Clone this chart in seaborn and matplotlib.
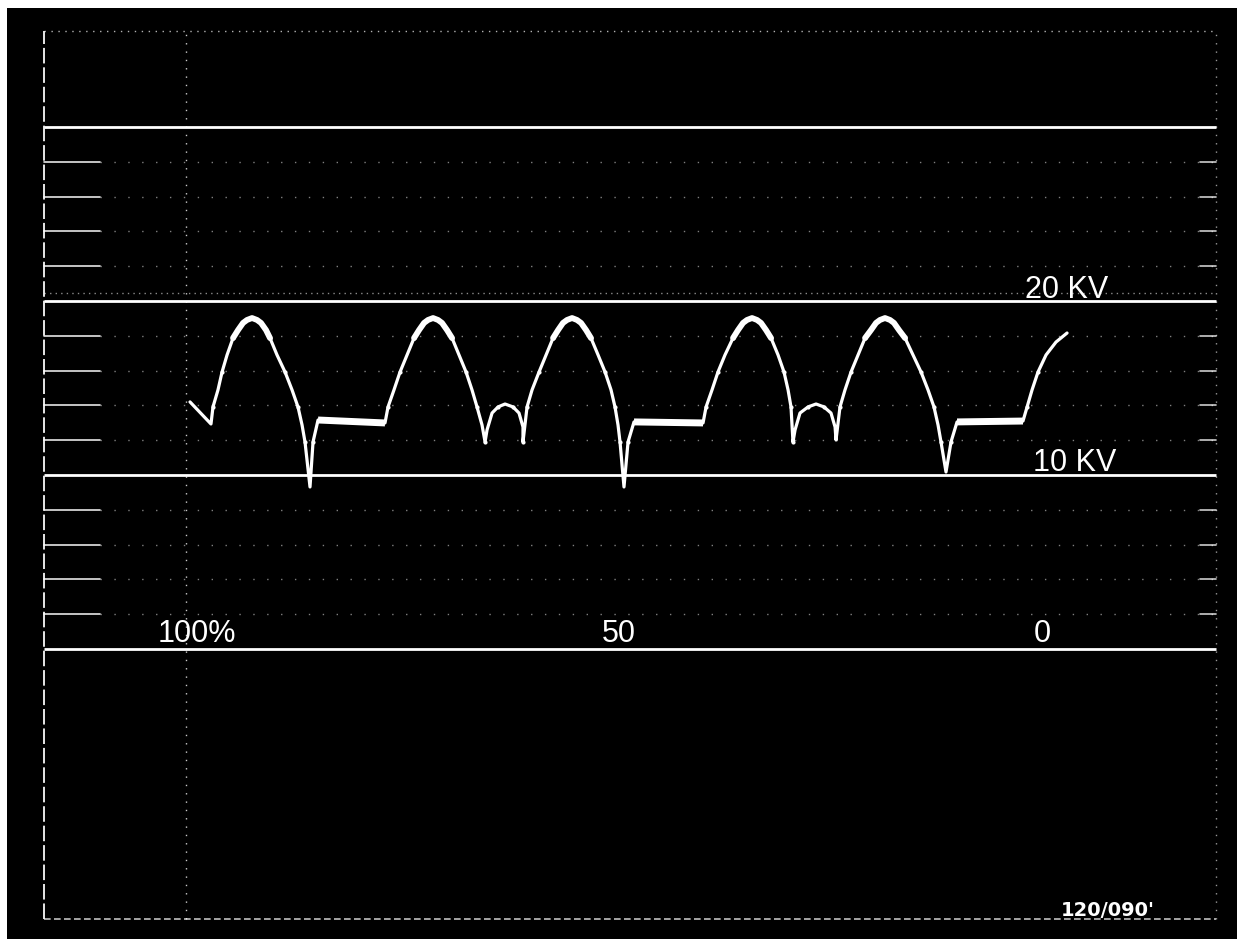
import numpy as np
import pandas as pd
from matplotlib import pyplot as plt
import seaborn as sb

# trace: sweep position in % (100 -> 0) and voltage in kV
wave_pct = [99.54, 97.11,
            # arch 1
            96.88, 96.30, 95.83, 95.25, 94.56, 93.98, 93.40, 92.94, 92.36,
            91.78, 91.32, 90.74, 90.28, 89.47, 88.54, 87.73, 87.04, 86.57, 86.23, 85.65,
            85.30, 84.72, 76.97,
            # arch 2
            76.62, 75.93, 75.23, 74.42, 73.61, 73.03, 72.45, 71.99, 71.41,
            70.83, 70.37, 69.79, 69.21, 68.40, 67.59, 66.90, 66.32, 65.74, 65.39,
            # small arch
            65.16, 64.58, 63.89, 63.08, 62.15, 61.46, 61.00, 61.00,
            # arch 3
            60.53, 59.95, 59.14, 58.33, 57.52, 56.94, 56.37, 55.90, 55.32,
            54.75, 54.28, 53.70, 53.13, 52.31, 51.50, 50.81, 50.35, 50.00, 49.77, 49.31,
            48.84, 48.15, 40.16,
            # arch 4
            39.81, 39.12, 38.43, 37.62, 36.69, 36.11, 35.53, 35.07, 34.49,
            33.91, 33.45, 32.87, 32.29, 31.48, 30.79, 30.32, 29.98, 29.86, 29.75,
            # small arch
            29.51, 28.94, 28.01, 27.08, 26.16, 25.35, 24.88, 24.77,
            # arch 5
            24.31, 23.73, 23.03, 22.22, 21.41, 20.72, 20.14, 19.68, 19.10,
            18.52, 18.06, 17.48, 16.78, 15.86, 14.93, 14.12, 13.43, 12.96, 12.62, 12.04,
            11.46, 10.76, 3.13,
            # final rise
            2.66, 2.08, 1.39, 0.46, -0.69, -1.97]
wave_kv = [14.20, 12.93,
           13.91, 14.89, 15.92, 16.90, 17.87, 18.33, 18.74, 18.91, 19.02,
           18.91, 18.74, 18.33, 17.87, 16.90, 15.92, 14.89, 13.91, 12.87, 11.90, 9.31,
           11.90, 13.16, 12.99,
           13.91, 14.89, 15.92, 16.90, 17.87, 18.33, 18.74, 18.91, 19.02,
           18.91, 18.74, 18.33, 17.87, 16.90, 15.92, 14.89, 13.91, 12.87, 11.90,
           12.59, 13.56, 13.91, 14.08, 13.91, 13.56, 12.76, 11.90,
           13.91, 14.89, 15.92, 16.90, 17.87, 18.33, 18.74, 18.91, 19.02,
           18.91, 18.74, 18.33, 17.87, 16.90, 15.92, 14.89, 13.91, 12.87, 11.90, 9.31,
           11.90, 13.05, 12.99,
           13.91, 14.89, 15.92, 16.90, 17.87, 18.33, 18.74, 18.91, 19.02,
           18.91, 18.74, 18.33, 17.87, 16.90, 15.92, 14.89, 13.91, 12.87, 11.90,
           12.59, 13.56, 13.91, 14.08, 13.91, 13.56, 12.76, 12.01,
           13.91, 14.89, 15.92, 16.90, 17.87, 18.33, 18.74, 18.91, 19.02,
           18.91, 18.74, 18.33, 17.87, 16.90, 15.92, 14.89, 13.91, 12.87, 11.90, 10.17,
           11.90, 13.05, 13.10,
           13.91, 14.89, 15.92, 16.90, 17.64, 18.16]

major_kv = [30, 20, 10, 0]
minor_kv = [28, 26, 24, 22, 18, 16, 14, 12, 8, 6, 4, 2]
kv_labels = ["20 KV", "10 KV"]
kv_label_x = [2.9, 2.0]
kv_label_pos = [20, 10]
pct_labels = ["100%", "50", "0"]
pct_label_pos = [98.8, 49.9, 0.9]
stamp = "120/090'"

# screen frame (in the same units)
frame_left, frame_right = 116.4, -19.2
frame_top, frame_bottom = 35.5, -15.5

df = pd.DataFrame({"pct": wave_pct, "kv": wave_kv})

sb.set_theme(style="dark")
plt.rcParams["font.family"] = ["Liberation Sans", "DejaVu Sans"]

fig = plt.figure(figsize=(12.48, 9.39), dpi=100, facecolor="white")
ax = fig.add_axes([7 / 1248, 0, 1230 / 1248, 931 / 939])
ax.set_facecolor("black")

# frame
ax.plot([frame_left, frame_left], [frame_bottom, frame_top], color="white", lw=1.4, ls=(0, (8, 2)), alpha=0.9)
ax.plot([frame_left, frame_right], [frame_top, frame_top], color="white", lw=1.0, ls=(0, (1, 4)), alpha=0.7)
ax.plot([frame_left, frame_right], [frame_bottom, frame_bottom], color="white", lw=1.2, ls=(0, (4, 2)), alpha=0.75)
ax.plot([frame_right, frame_right], [frame_bottom, frame_top], color="white", lw=1.0, ls=(0, (1, 5)), alpha=0.6)

# vertical reference at 100 %
ax.plot([100, 100], [frame_bottom, frame_top], color="white", lw=1.0, ls=(0, (1, 5)), alpha=0.8)

# faint scan line just above 20 kV
ax.plot([frame_left, frame_right], [20.46, 20.46], color="white", lw=1.0, ls=(0, (1, 3)), alpha=0.55)

# graticule
ax.hlines(major_kv, frame_left, frame_right, color="white", lw=2.0)
for kv in minor_kv:
    ax.plot([frame_left, 110.0], [kv, kv], color="white", lw=1.2, alpha=0.9)
    ax.plot([110.0, frame_right], [kv, kv], color="white", lw=1.0, ls=(0, (1, 9)), alpha=0.5)
    ax.plot([-17.4, frame_right], [kv, kv], color="white", lw=1.2, alpha=0.8)

# the trace
sb.lineplot(data=df, x="pct", y="kv", sort=False, estimator=None, color="white", lw=2.3, ax=ax)

# heavier parts of the trace: flat steps and arch tops
pct = np.array(wave_pct)
kv = np.array(wave_kv)
for i in range(len(pct) - 1):
    if abs(kv[i + 1] - kv[i]) < 0.3 and pct[i] - pct[i + 1] > 3:
        ax.plot(pct[i:i + 2], kv[i:i + 2], color="white", lw=5, solid_capstyle="butt")
top = np.where(kv >= 17.8, kv, np.nan)
ax.plot(pct, top, color="white", lw=4.2, solid_capstyle="round")
on_grid = np.isin(kv, [11.90, 13.91, 15.92, 17.87])
ax.scatter(pct[on_grid], kv[on_grid], color="white", s=9, zorder=3, linewidths=0)

# labels
for lab, x, y in zip(kv_labels, kv_label_x, kv_label_pos):
    ax.text(x, y + 0.2, lab, color="white", fontsize=22, va="baseline", ha="left")
for lab, x in zip(pct_labels, pct_label_pos):
    ax.text(x, 0.4, lab, color="white", fontsize=22, va="baseline", ha="center")
ax.text(-1.2, -15.35, stamp, color="white", fontsize=14, fontweight="bold",
        family="DejaVu Sans", va="baseline", ha="left")

ax.set_xlim(120.72, -21.64)
ax.set_ylim(-16.67, 36.84)
ax.set_xticks([])
ax.set_yticks([])
ax.set_xlabel("")
ax.set_ylabel("")
sb.despine(ax=ax, left=True, bottom=True)

plt.savefig("out.png", dpi=100, facecolor="white")
